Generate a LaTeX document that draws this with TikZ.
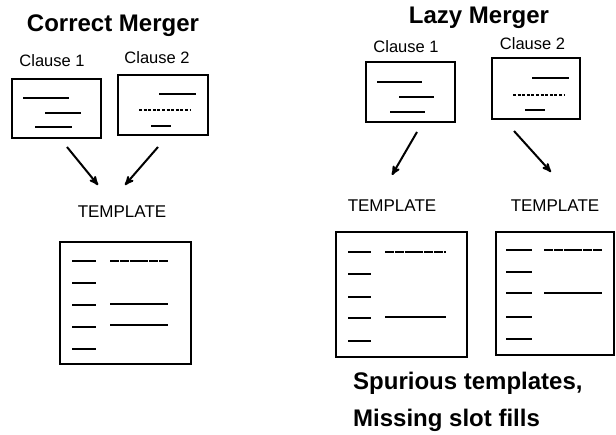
\documentclass[tikz,border=0pt]{standalone}
\usepackage{fontspec}
\setmainfont{Liberation Sans}
\usetikzlibrary{
	arrows,
	positioning
}
\tikzset{
	>=stealth',
	mergearrow/.style={->, line width=2pt, >=stealth'},
	docbox/.style={draw, line width=2pt, rectangle, inner sep=0pt},
	slot/.style={line width=1.5pt},
	fineslot/.style={line width=1.5pt, dash pattern=on 9pt off 0.8pt},
	dotslot/.style={line width=1.5pt, dash pattern=on 3pt off 1.6pt},
	titletext/.style={anchor=base, font=\fontsize{24}{28}\selectfont\bfseries, inner sep=0pt},
	cluetext/.style={anchor=base, font=\fontsize{16.5}{19}\selectfont, inner sep=0pt},
	temptext/.style={anchor=base, font=\fontsize{17}{20}\selectfont, inner sep=0pt}
}

\begin{document}
\begin{tikzpicture}[x=1pt, y=-1pt]
	\useasboundingbox (0,0) rectangle (616,435);

	% correct merger
	\node[titletext] (corrtitle) at (113,32) {Correct Merger};
	\node[cluetext] (corrlabA) at (52,67) {Clause 1};
	\node[cluetext] (corrlabB) at (157,64) {Clause 2};
	\node[docbox, minimum width=89pt, minimum height=59pt] (corrclA) at (56.5,108.5) {};
	\node[docbox, minimum width=90pt, minimum height=60pt] (corrclB) at (163,105) {};
	\draw[slot] (23,98) -- (69,98);
	\draw[slot] (45,113) -- (81,113);
	\draw[slot] (35,127) -- (72,127);
	\draw[slot] (159,94) -- (196,94);
	\draw[dotslot] (139,110) -- (190,110);
	\draw[slot] (151,126) -- (171,126);
	\node[temptext] (corrtemp) at (122,218) {TEMPLATE};
	\node[docbox, minimum width=131pt, minimum height=122pt] (corrtbox) at (125.5,303) {};
	\foreach \y in {261,283,305,327,349} {
		\draw[slot] (72,\y) -- (96,\y);
	}
	\draw[fineslot] (110,261) -- (168,261);
	\draw[slot] (110,304) -- (168,304);
	\draw[slot] (110,325) -- (168,325);
	\coordinate (corrfromA) at (67,147);
	\coordinate (corrtoA) at (98,185);
	\coordinate (corrfromB) at (158,147);
	\coordinate (corrtoB) at (125,185);
	\draw[mergearrow] (corrfromA) -- (corrtoA);
	\draw[mergearrow] (corrfromB) -- (corrtoB);

	% lazy merger
	\node[titletext] (lazytitle) at (479,24) {Lazy Merger};
	\node[cluetext] (lazylabA) at (406,53) {Clause 1};
	\node[cluetext] (lazylabB) at (532.5,50) {Clause 2};
	\node[docbox, minimum width=89pt, minimum height=60pt] (lazyclA) at (410.5,92) {};
	\node[docbox, minimum width=88pt, minimum height=61pt] (lazyclB) at (536,88.5) {};
	\draw[slot] (377,82) -- (422,82);
	\draw[slot] (399,97) -- (434,97);
	\draw[slot] (390,112) -- (425,112);
	\draw[slot] (532,78) -- (569,78);
	\draw[dotslot] (513,95) -- (565,95);
	\draw[slot] (525,110) -- (545,110);
	\node[temptext] (lazytempA) at (392,212) {TEMPLATE};
	\node[temptext] (lazytempB) at (555,212) {TEMPLATE};
	\node[docbox, minimum width=131pt, minimum height=125pt] (lazytboxA) at (401.5,294.5) {};
	\node[docbox, minimum width=118pt, minimum height=123pt] (lazytboxB) at (555,293.5) {};
	\foreach \y in {252,274,297,318,341} {
		\draw[slot] (348,\y) -- (371,\y);
	}
	\draw[fineslot] (385,252) -- (446,252);
	\draw[slot] (385,317) -- (446,317);
	\foreach \y in {250,272,293,317,339} {
		\draw[slot] (506,\y) -- (532,\y);
	}
	\draw[fineslot] (544,250) -- (602,250);
	\draw[slot] (544,293) -- (602,293);
	\coordinate (lazyfromA) at (417,132);
	\coordinate (lazytoA) at (392,175);
	\coordinate (lazyfromB) at (514,131);
	\coordinate (lazytoB) at (551,172);
	\draw[mergearrow] (lazyfromA) -- (lazytoA);
	\draw[mergearrow] (lazyfromB) -- (lazytoB);
	\node[titletext, anchor=base west] (lazynoteA) at (353,390) {Spurious templates,};
	\node[titletext, anchor=base west] (lazynoteB) at (353,427) {Missing slot fills};
\end{tikzpicture}
\end{document}
